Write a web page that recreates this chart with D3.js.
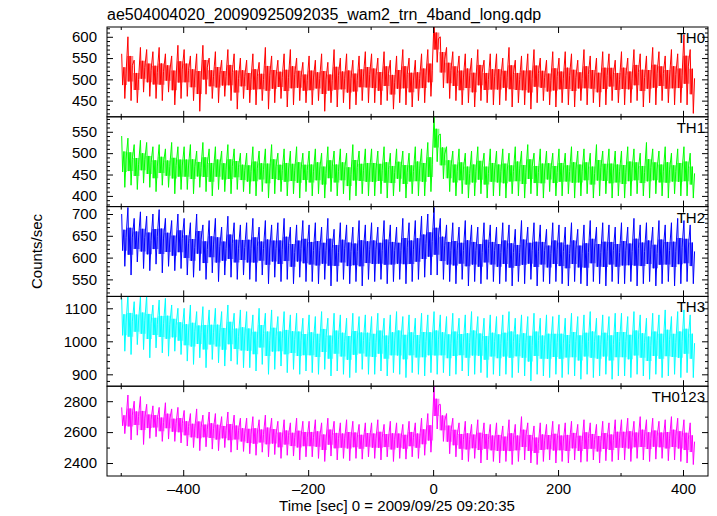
<!DOCTYPE html>
<html><head><meta charset="utf-8">
<script src="https://cdn.jsdelivr.net/npm/d3@7"></script>
<style>body{margin:0;background:#fff}svg{display:block}text{font-family:"Liberation Sans",Arial,Helvetica,sans-serif;fill:#000}</style>
</head><body><svg id="c" width="717" height="516"></svg>
<script>
const title = "ae504004020_20090925092035_wam2_trn_4band_long.qdp";
const xLabel = "Time [sec] 0 = 2009/09/25 09:20:35";
const yLabel = "Counts/sec";
const panelNames = ["TH0","TH1","TH2","TH3","TH0123"];
const panelColors = ["#ff0000","#00ff00","#0000ff","#00ffff","#ff00ff"];
const xDomain = [-522, 440];
const xMajorTicks = [-400,-200,0,200,400];
const xMinorTicks = [-500,-300,-100,100,300];
// time-bin centres (10 s bins)
const binCenters = d3.range(-495, 416, 10);

const yDomains = [[412,623],[375,585],[511,717],[864,1136],[2316,2897]];
const yMajorTicks = [[450,500,550,600],[400,450,500,550],[550,600,650,700],[900,1000,1100],[2400,2600,2800]];
const yMinorSteps = [10,10,10,20,100];

// per-bin upper / lower extremes
const th0Hi = [560,600,545,575,570,565,575,560,555,580, 570,555,560,580,550,565,545,570,560,550, 545,560,540,575,555,545,560,570,550,540, 555,545,560,540,570,550,560,545,555,565, 560,550,565,545,555,570,550,545,560,570, 640,600,575,565,555,560,550,570,545,560, 560,550,575,545,555,560,570,550,545,565, 550,565,560,545,570,555,550,565,560,545, 565,550,570,560,555,575,565,555,570,560, 605,570];
const th0Lo = [455,450,445,470,460,455,450,470,440,455, 460,450,425,465,455,445,460,450,430,455, 445,440,450,430,445,455,435,440,450,445, 440,450,425,445,435,445,430,440,450,445, 445,440,450,430,445,440,435,450,445,460, 540,480,455,450,440,445,435,450,445,440, 440,450,435,445,440,430,445,450,440,435, 445,440,435,450,440,445,435,440,450,445, 440,445,450,435,445,440,450,445,440,445, 440,420];
const th1Hi = [540,535,520,530,525,515,520,510,525,515, 515,520,505,525,510,515,505,520,510,500, 500,515,505,510,520,500,510,505,515,500, 505,510,500,515,505,510,500,520,505,510, 510,505,515,500,510,505,500,515,510,525, 590,545,515,505,510,500,505,515,500,510, 505,510,500,515,505,520,500,510,505,500, 510,500,515,505,510,500,520,505,510,505, 505,515,510,500,525,510,505,515,500,510, 515,500];
const th1Lo = [420,425,415,430,420,410,425,420,405,415, 415,405,420,410,400,415,410,405,415,410, 405,400,410,395,405,410,400,405,395,410, 400,405,395,410,400,405,390,400,405,400, 400,405,395,400,410,395,405,400,400,410, 480,440,410,400,405,395,400,405,395,400, 400,395,405,400,395,405,400,395,410,400, 400,405,395,400,405,395,400,405,395,400, 395,400,405,400,395,405,400,395,405,400, 400,395];
const th2Hi = [700,715,690,705,695,700,710,690,685,700, 690,680,700,675,685,690,670,695,680,675, 680,690,670,685,675,680,690,670,675,685, 675,680,670,690,665,680,675,670,685,675, 680,670,685,675,670,690,680,685,695,700, 715,690,675,680,670,685,675,670,680,675, 670,680,675,665,685,670,680,675,665,680, 675,670,680,665,675,685,670,680,675,670, 680,670,690,675,680,670,685,675,680,690, 685,675];
const th2Lo = [580,560,590,575,570,585,565,580,570,575, 560,555,570,550,565,545,560,555,550,560, 550,545,560,540,555,545,550,540,555,545, 545,540,550,535,545,550,540,545,535,550, 545,550,540,545,550,540,545,550,555,560, 560,550,545,540,550,535,545,540,550,545, 540,545,535,545,540,550,535,545,540,545, 540,535,545,540,535,545,540,535,545,540, 540,545,535,540,545,535,540,545,535,540, 545,540];
const th3Hi = [1130,1140,1120,1135,1140,1110,1125,1130,1110,1100, 1100,1110,1090,1105,1095,1100,1090,1110,1085,1095, 1090,1080,1100,1085,1095,1075,1090,1080,1085,1070, 1080,1075,1090,1070,1085,1080,1070,1085,1075,1080, 1075,1085,1070,1080,1090,1075,1080,1070,1085,1080, 1090,1080,1075,1085,1070,1080,1090,1075,1070,1080, 1075,1080,1090,1070,1080,1075,1085,1070,1080,1075, 1080,1070,1085,1075,1080,1090,1070,1080,1075,1085, 1085,1075,1090,1080,1070,1085,1080,1095,1075,1090, 1095,1080];
const th3Lo = [970,960,990,975,950,980,965,955,970,960, 940,930,950,920,945,935,925,940,930,920, 920,910,930,900,915,925,905,915,900,910, 905,900,915,895,910,900,890,905,915,900, 900,910,895,905,900,890,905,900,895,905, 900,905,895,900,910,895,900,905,890,900, 895,900,890,905,895,880,900,895,890,900, 890,900,895,885,900,890,895,900,885,895, 895,890,900,895,885,900,890,895,900,890, 905,890];
const th0123Hi = [2760,2840,2800,2830,2780,2770,2760,2790,2750,2760, 2740,2720,2750,2710,2730,2720,2700,2730,2710,2690, 2690,2700,2680,2710,2690,2670,2680,2660,2690,2670, 2670,2680,2660,2690,2670,2660,2680,2670,2650,2660, 2660,2680,2650,2670,2660,2650,2670,2660,2690,2720, 2900,2780,2720,2690,2660,2670,2650,2680,2660,2650, 2660,2640,2680,2650,2700,2660,2640,2660,2650,2670, 2650,2660,2670,2650,2680,2660,2650,2670,2660,2680, 2680,2690,2670,2700,2680,2690,2670,2680,2700,2690, 2680,2660];
const th0123Lo = [2590,2550,2580,2520,2560,2570,2540,2555,2540,2530, 2510,2500,2480,2505,2490,2480,2500,2470,2485,2475, 2460,2450,2470,2440,2455,2430,2450,2445,2420,2440, 2440,2430,2410,2445,2420,2430,2415,2430,2425,2440, 2430,2420,2440,2410,2430,2425,2440,2430,2450,2470, 2620,2540,2460,2440,2420,2410,2430,2400,2420,2410, 2400,2410,2390,2410,2420,2400,2390,2410,2420,2400, 2410,2400,2420,2405,2410,2420,2400,2415,2410,2420, 2420,2410,2430,2420,2410,2425,2430,2415,2420,2410, 2400,2390];
const seriesHi = [th0Hi, th1Hi, th2Hi, th3Hi, th0123Hi];
const seriesLo = [th0Lo, th1Lo, th2Lo, th3Lo, th0123Lo];

const svg = d3.select("#c");
const L = 107, R = 708, T = 27, B = 476;
const ph = (B - T) / 5;
const x = d3.scaleLinear().domain(xDomain).range([L, R]);
const FS = 15;

svg.append("text").attr("x", L).attr("y", 20).attr("font-size", 16).text(title);
svg.append("text").attr("transform", `translate(42,${(T+B)/2}) rotate(-90)`)
  .attr("text-anchor","middle").attr("font-size", FS).text(yLabel);
svg.append("text").attr("x", 397).attr("y", 511).attr("text-anchor","middle")
  .attr("font-size", FS).text(xLabel);

const MAJ = 6, MIN = 3;
function styleAxis(g){ g.select(".domain").remove(); g.selectAll(".tick line").attr("stroke","#000").attr("stroke-width",1); g.selectAll("text").attr("font-size",FS).style("font-family","Liberation Sans, Arial, sans-serif"); }

panelNames.forEach((name, p) => {
  const top = T + p*ph, bot = top + ph;
  const y = d3.scaleLinear().domain(yDomains[p]).range([bot, top]);
  const cid = "clip" + p;
  svg.append("clipPath").attr("id", cid).append("rect")
    .attr("x", L).attr("y", top).attr("width", R-L).attr("height", ph);
  const hi = seriesHi[p], lo = seriesLo[p];
  const g = svg.append("g").attr("clip-path", `url(#${cid})`);

  // dense core of the band
  const area = d3.area()
    .x((t) => x(t))
    .y0((t, i) => y(lo[i] + 0.3*(hi[i]-lo[i])))
    .y1((t, i) => y(hi[i] - 0.3*(hi[i]-lo[i])))
    .curve(d3.curveStep);
  g.append("path").attr("d", area(binCenters)).attr("fill", panelColors[p]).attr("opacity", 0.5);

  const line = d3.line().x(d => x(d[0])).y(d => y(d[1]));
  const pts = [];
  binCenters.forEach((t, i) => {
    const r = hi[i] - lo[i];
    pts.push([t - 3.5, hi[i]]);
    pts.push([t - 2, lo[i] + 0.3*r]);
    pts.push([t, hi[i] - 0.3*r]);
    pts.push([t + 1.5, lo[i]]);
    pts.push([t + 3.5, lo[i] + 0.55*r]);
  });
  g.append("path").attr("d", line(pts)).attr("fill","none").attr("stroke", panelColors[p]).attr("stroke-width", 1);

  const [d0, d1] = yDomains[p];
  const st = yMinorSteps[p];
  const minor = d3.range(Math.ceil(d0/st)*st, d1, st).filter(v => !yMajorTicks[p].includes(v));

  svg.append("g").attr("transform", `translate(${L},0)`)
    .call(d3.axisLeft(y).tickValues(yMajorTicks[p]).tickSizeInner(-MAJ).tickSizeOuter(0).tickPadding(10).tickFormat(d3.format("d")))
    .call(styleAxis);
  svg.append("g").attr("transform", `translate(${L},0)`)
    .call(d3.axisLeft(y).tickValues(minor).tickSizeInner(-MIN).tickSizeOuter(0).tickFormat(""))
    .call(styleAxis);
  svg.append("g").attr("transform", `translate(${R},0)`)
    .call(d3.axisRight(y).tickValues(yMajorTicks[p]).tickSizeInner(-MAJ).tickSizeOuter(0).tickFormat(""))
    .call(styleAxis);
  svg.append("g").attr("transform", `translate(${R},0)`)
    .call(d3.axisRight(y).tickValues(minor).tickSizeInner(-MIN).tickSizeOuter(0).tickFormat(""))
    .call(styleAxis);
  [[top, d3.axisTop], [bot, d3.axisBottom]].forEach(([yy, ax]) => {
    svg.append("g").attr("transform", `translate(0,${yy})`)
      .call(ax(x).tickValues(xMajorTicks).tickSizeInner(-MAJ).tickSizeOuter(0).tickFormat(""))
      .call(styleAxis);
    svg.append("g").attr("transform", `translate(0,${yy})`)
      .call(ax(x).tickValues(xMinorTicks).tickSizeInner(-MIN).tickSizeOuter(0).tickFormat(""))
      .call(styleAxis);
  });

  svg.append("rect").attr("x", L).attr("y", top).attr("width", R-L).attr("height", ph)
    .attr("fill","none").attr("stroke","#000").attr("stroke-width",1);

  svg.append("text").attr("x", R - 3).attr("y", top + 16).attr("text-anchor","end")
    .attr("font-size", FS).text(name);
});

svg.append("g").attr("transform", `translate(0,${B})`)
  .call(d3.axisBottom(x).tickValues(xMajorTicks).tickSize(0).tickPadding(7)
    .tickFormat(d => d < 0 ? "\u2013" + Math.abs(d) : String(d)))
  .call(styleAxis);
</script></body></html>
